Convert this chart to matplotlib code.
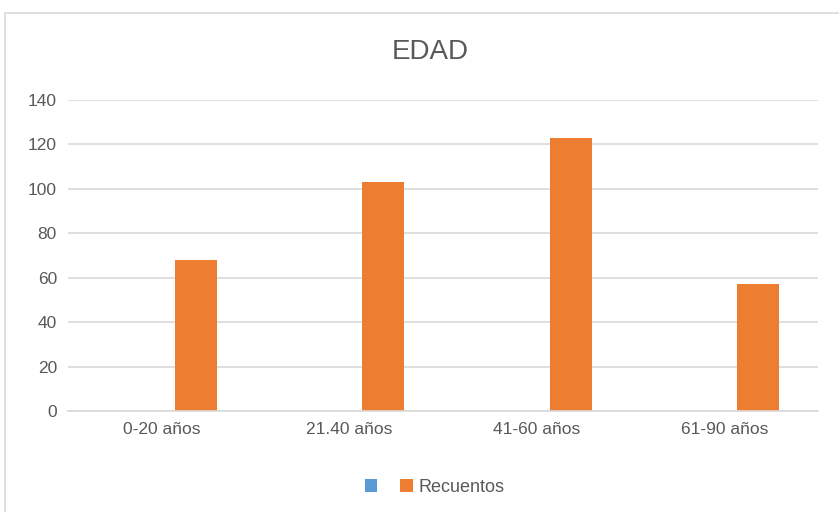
import matplotlib.pyplot as plt
import numpy as np
from matplotlib.patches import Rectangle

# data
categorias = ['0-20 años', '21.40 años', '41-60 años', '61-90 años']
serie_vacia = [0, 0, 0, 0]
recuentos = [68, 103, 123, 57]
yticks = [0, 20, 40, 60, 80, 100, 120, 140]

plt.rcParams['font.family'] = ['Liberation Sans', 'DejaVu Sans']

fig = plt.figure(figsize=(8.39, 5.12), dpi=100)

# chart border, like the Excel frame
fig.patches.append(Rectangle((5 / 839, -0.1), 1.0, 1 - 13 / 512 + 0.1, transform=fig.transFigure,
                             fill=False, edgecolor='#d9d9d9', linewidth=1.2))

ax = fig.add_axes([68 / 839, 1 - 411 / 512, (818 - 68) / 839, (411 - 100) / 512])
x = np.arange(len(categorias))
w = 0.224
ax.bar(x - 0.18, serie_vacia, w, color='#5b9bd5', label=' ')
ax.bar(x + 0.18, recuentos, w, color='#ed7d31', label='Recuentos')

ax.set_xlim(-0.5, len(categorias) - 0.5)
ax.set_ylim(0, 140)
ax.set_yticks(yticks)
ax.set_xticks(x)
ax.set_xticklabels(categorias)
ax.grid(axis='y', color='#d9d9d9', linewidth=1.2)
ax.set_axisbelow(True)
for s in ['top', 'right', 'left']:
    ax.spines[s].set_visible(False)
ax.spines['bottom'].set_color('#d9d9d9')
ax.spines['bottom'].set_linewidth(1.2)
ax.tick_params(length=0, labelsize=12.5, colors='#595959', pad=8)

fig.text(0.513, 1 - 52 / 512, 'EDAD', ha='center', va='center', fontsize=20, color='#595959')

fig.legend(loc='center', bbox_to_anchor=(0.518, 1 - 487 / 512), ncol=2, frameon=False,
           fontsize=13, labelcolor='#595959', handlelength=0.7, handleheight=0.7,
           columnspacing=0.7, handletextpad=0.3)

fig.savefig('out.png', dpi=100)
